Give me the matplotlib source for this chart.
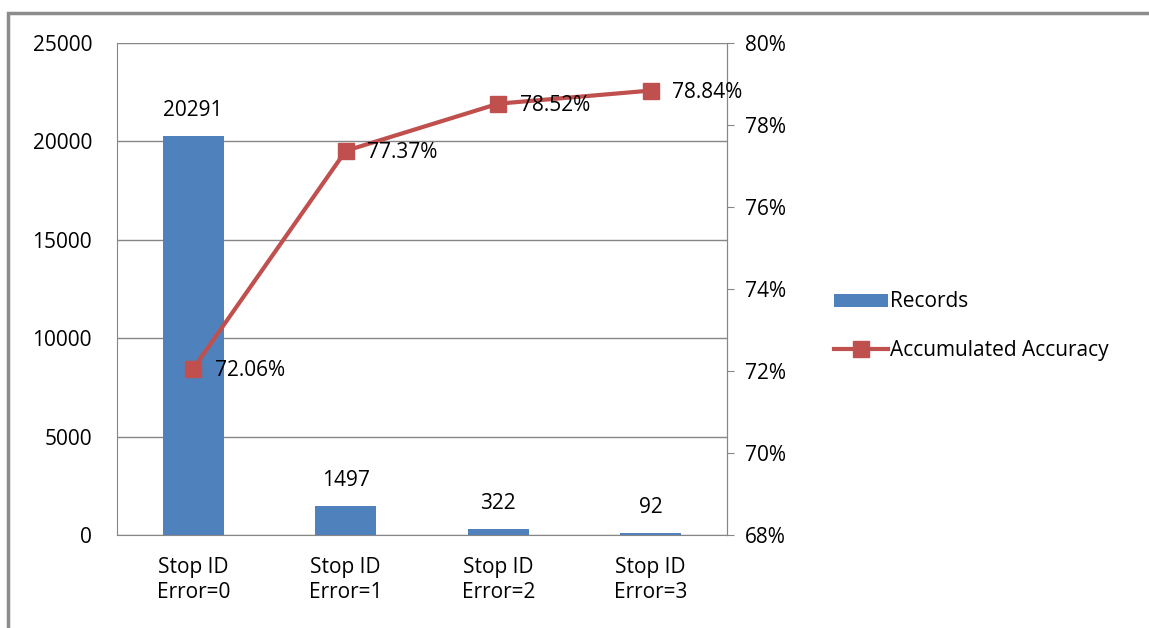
import matplotlib
matplotlib.use("Agg")
from matplotlib import pyplot as plt
from matplotlib.patches import Rectangle
from matplotlib.ticker import FuncFormatter

plt.rcParams['font.family'] = ['Open Sans', 'DejaVu Sans']

categories = ["Stop ID\nError=0", "Stop ID\nError=1", "Stop ID\nError=2", "Stop ID\nError=3"]
records = [20291, 1497, 322, 92]
accuracy = [72.06, 77.37, 78.52, 78.84]

bar_color = "#4F81BD"
line_color = "#C0504D"
grid_color = "#868686"
fs = 15

fig = plt.figure(figsize=(11.49, 6.28), dpi=100)
fig.patches.append(Rectangle((8 / 1149, -0.2), 1.2, 1.2 - 13 / 628, transform=fig.transFigure,
                             fill=False, edgecolor="#8c8c8c", linewidth=2.5))
ax = fig.add_axes([117 / 1149, 1 - 535 / 628, 610 / 1149, 492 / 628])

x = list(range(len(categories)))
ax.bar(x, records, width=0.4, color=bar_color, zorder=2, label="Records")
ax.set_xlim(-0.5, 3.5)
ax.set_ylim(0, 25000)
ax.set_yticks(range(0, 25001, 5000))
ax.yaxis.grid(True, color=grid_color, linewidth=1)
ax.set_axisbelow(True)
ax.set_xticks(x)
ax.set_xticklabels(categories, fontsize=fs, linespacing=1.25)
ax.tick_params(axis="x", length=0, pad=16)
ax.tick_params(axis="y", length=0, pad=18, labelsize=fs)
for s in ["left", "bottom", "right", "top"]:
    ax.spines[s].set_color(grid_color)
ax.spines["top"].set_visible(False)

for xi, v in zip(x, records):
    ax.text(xi, v + 750, str(v), ha="center", va="bottom", fontsize=fs)

ax2 = ax.twinx()
ax2.plot(x, accuracy, color=line_color, linewidth=3, marker="s", markersize=12,
         zorder=3, label="Accumulated Accuracy")
ax2.set_ylim(68, 80)
ax2.set_yticks(range(68, 81, 2))
ax2.yaxis.set_major_formatter(FuncFormatter(lambda v, p: "%d%%" % v))
ax2.tick_params(axis="y", length=5, color=grid_color, labelsize=fs, pad=8)
for s in ["left", "bottom", "right", "top"]:
    ax2.spines[s].set_visible(False)
ax2.spines["right"].set_visible(True)
ax2.spines["right"].set_color(grid_color)

for xi, v in zip(x, accuracy):
    ax2.text(xi + 0.14, v - 0.05, "%.2f%%" % v, ha="left", va="center", fontsize=fs)

h1, l1 = ax.get_legend_handles_labels()
h2, l2 = ax2.get_legend_handles_labels()
fig.legend(h1 + h2, l1 + l2, loc="center left", bbox_to_anchor=(815 / 1149, 1 - 326 / 628),
           frameon=False, fontsize=fs, handlelength=2.6, handleheight=0.6,
           handletextpad=0.1, labelspacing=1.3)

fig.savefig("out.png", dpi=100)
